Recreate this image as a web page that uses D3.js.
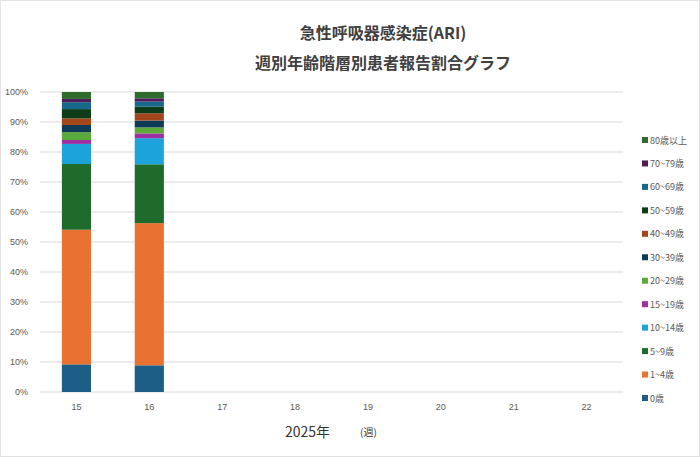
<!DOCTYPE html>
<html>
<head>
<meta charset="utf-8">
<script src="https://d3js.org/d3.v7.min.js"></script>
<style>
body { margin: 0; background: #fff; }
svg { display: block; font-family: "Noto Sans CJK JP", "Noto Sans", sans-serif; }
</style>
</head>
<body>
<svg id="chart" width="700" height="457"></svg>
<script>
// weeks on the x axis
let weeks = ["15", "16", "17", "18", "19", "20", "21", "22"];
// age groups, bottom of the stack first
let ageGroups = ["0歳", "1~4歳", "5~9歳", "10~14歳", "15~19歳", "20~29歳",
  "30~39歳", "40~49歳", "50~59歳", "60~69歳", "70~79歳", "80歳以上"];
let groupColors = ["#1c5e85", "#e97132", "#1e6b2c", "#1ca3dc", "#9c2fa1", "#5aab3c",
  "#0f3b58", "#a5451a", "#0e3b18", "#17698b", "#4e1b5d", "#2e6b2c"];
// percent per age group, one array per reported week
let week15 = [9.2, 44.9, 21.9, 6.7, 1.3, 2.6, 2.4, 2.2, 3.1, 2.3, 1.1, 2.3];
let week16 = [8.9, 47.4, 19.6, 8.7, 1.6, 2.0, 2.3, 2.4, 2.2, 1.7, 1.1, 2.1];
let yTicks = [0, 10, 20, 30, 40, 50, 60, 70, 80, 90, 100];

let reported = [{week: "15", values: week15}, {week: "16", values: week16}];

let rows = reported.map(function(r) {
  let row = {week: r.week};
  ageGroups.forEach(function(g, i) { row[g] = r.values[i]; });
  return row;
});

let margin = {left: 40, right: 77, top: 92, bottom: 65};
let width = 700, height = 457;
let svg = d3.select("#chart");

// faint chart border
svg.append("rect")
  .attr("x", 0.5).attr("y", 0.5)
  .attr("width", width - 1).attr("height", height - 1)
  .attr("fill", "none").attr("stroke", "#e3e3e3");

let x = d3.scaleBand()
  .domain(weeks)
  .range([margin.left, width - margin.right])
  .paddingInner(0.6).paddingOuter(0.3);

let y = d3.scaleLinear()
  .domain([0, 100])
  .range([height - margin.bottom, margin.top]);

// grid
svg.append("g").selectAll("line")
  .data(yTicks)
  .enter().append("line")
  .attr("x1", margin.left).attr("x2", width - margin.right)
  .attr("y1", function(d) { return y(d); })
  .attr("y2", function(d) { return y(d); })
  .attr("stroke", "#d9d9d9").attr("stroke-width", 1);

// y axis labels
let yAxis = svg.append("g")
  .attr("transform", "translate(" + (margin.left - 9) + ",0)")
  .call(d3.axisLeft(y).tickValues(yTicks).tickSize(0)
    .tickFormat(function(d) { return d + "%"; }));
yAxis.select(".domain").remove();
yAxis.selectAll("text").attr("fill", "#595959").attr("font-size", 9)
  .attr("font-family", "'Liberation Sans', sans-serif");

// x axis labels
let xAxis = svg.append("g")
  .attr("transform", "translate(0," + (height - margin.bottom + 9) + ")")
  .call(d3.axisBottom(x).tickSize(0));
xAxis.select(".domain").remove();
xAxis.selectAll("text").attr("fill", "#595959").attr("font-size", 9)
  .attr("font-family", "'Liberation Sans', sans-serif");

// stacked bars
let series = d3.stack().keys(ageGroups)(rows);
svg.append("g").selectAll("g")
  .data(series)
  .enter().append("g")
  .attr("fill", function(d, i) { return groupColors[i]; })
  .selectAll("rect")
  .data(function(d) { return d; })
  .enter().append("rect")
  .attr("x", function(d) { return x(d.data.week); })
  .attr("y", function(d) { return y(d[1]); })
  .attr("height", function(d) { return y(d[0]) - y(d[1]); })
  .attr("width", x.bandwidth());

// title
svg.append("text")
  .attr("x", 383).attr("y", 39)
  .attr("text-anchor", "middle")
  .attr("font-size", 16).attr("font-weight", "bold").attr("fill", "#404040")
  .text("急性呼吸器感染症(ARI)");
svg.append("text")
  .attr("x", 383).attr("y", 69)
  .attr("text-anchor", "middle")
  .attr("font-size", 16).attr("font-weight", "bold").attr("fill", "#404040")
  .text("週別年齢階層別患者報告割合グラフ");

// x axis title
svg.append("text")
  .attr("x", 285).attr("y", 437)
  .attr("font-size", 14).attr("fill", "#333")
  .text("2025年");
svg.append("text")
  .attr("x", 360).attr("y", 436)
  .attr("font-size", 10).attr("fill", "#333")
  .text("(週)");

// legend, top item is the last group
let legendGroups = ageGroups.slice().reverse();
let legendY = d3.scalePoint().domain(legendGroups).range([140, 398]);
let legend = svg.append("g").selectAll("g")
  .data(legendGroups)
  .enter().append("g")
  .attr("transform", function(d) { return "translate(642," + legendY(d) + ")"; });
legend.append("rect")
  .attr("x", 0).attr("y", -3).attr("width", 6).attr("height", 6)
  .attr("fill", function(d) { return groupColors[ageGroups.indexOf(d)]; });
legend.append("text")
  .attr("x", 8).attr("y", 3.5)
  .attr("font-size", 9).attr("fill", "#595959")
  .text(function(d) { return d; });
</script>
</body>
</html>
